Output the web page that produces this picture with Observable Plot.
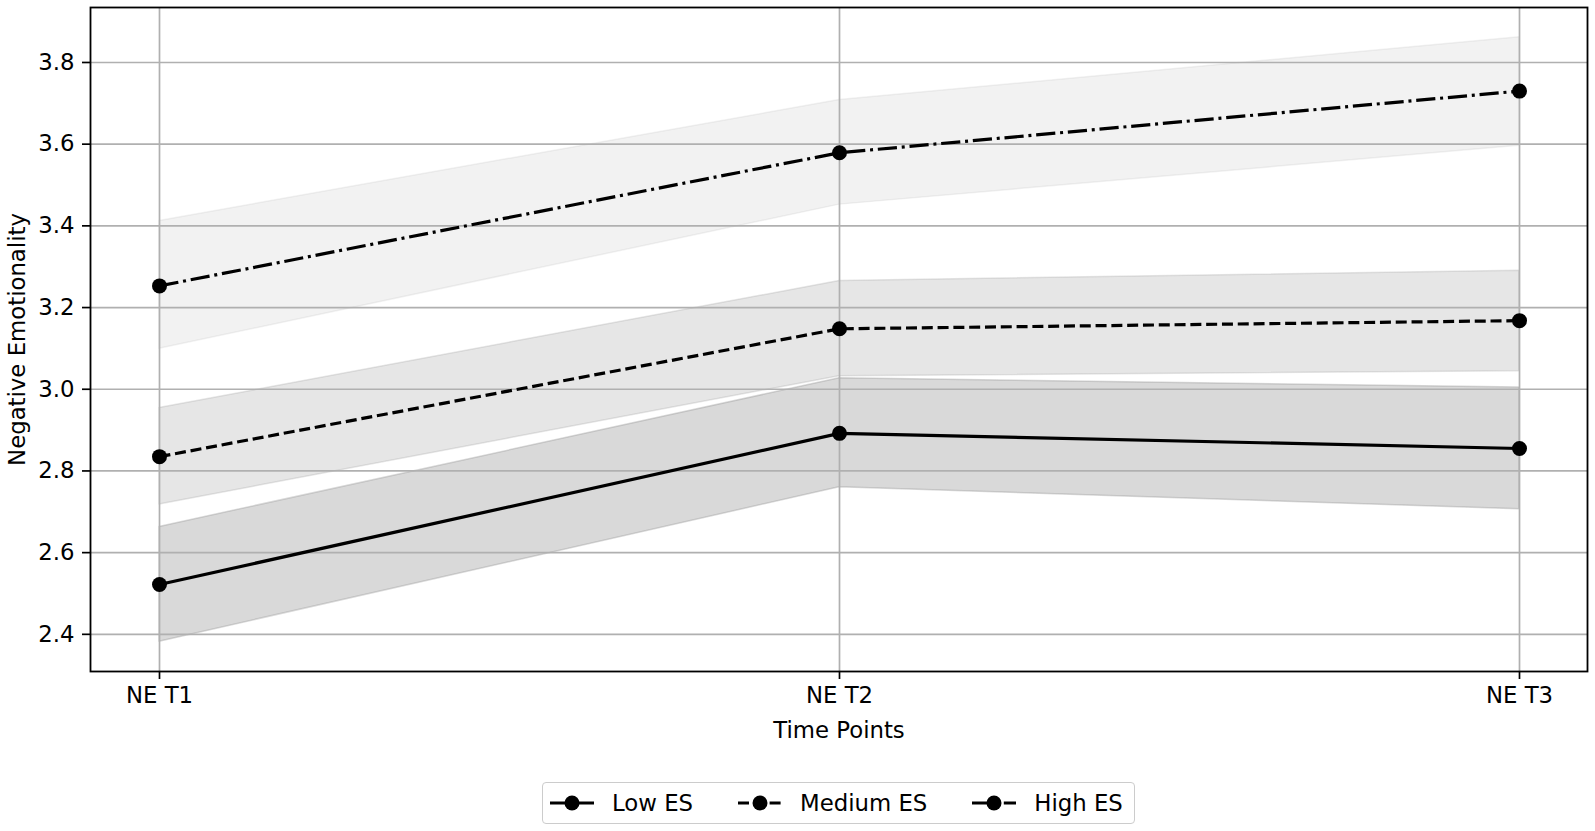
<!DOCTYPE html>
<html>
<head>
<meta charset="utf-8">
<script src="https://cdn.jsdelivr.net/npm/d3@7"></script>
<script src="https://cdn.jsdelivr.net/npm/@observablehq/plot@0.6"></script>
<style>
  html, body { margin: 0; padding: 0; background: white; }
  body { width: 1595px; height: 831px; overflow: hidden; font-family: "DejaVu Sans", sans-serif; }
  #legend {
    position: absolute; left: 542px; top: 782px; width: 591px; height: 40px;
    border: 1px solid #cccccc; border-radius: 4px; background: white;
    display: flex; align-items: center; box-sizing: content-box;
    font-size: 22.8px; color: black;
  }
  .item { display: flex; align-items: center; }
  .item svg { display: block; }
  .item span { margin-left: 16px; white-space: nowrap; }
</style>
</head>
<body>
<div id="chart"></div>
<div id="legend"></div>
<script>
const timePoints = ["NE T1", "NE T2", "NE T3"];
const groups = ["Low ES", "Medium ES", "High ES"];

const lowMean  = [2.522, 2.892, 2.855];
const lowLower = [2.382, 2.760, 2.706];
const lowUpper = [2.663, 3.027, 3.004];

const medMean  = [2.835, 3.148, 3.168];
const medLower = [2.718, 3.032, 3.044];
const medUpper = [2.954, 3.265, 3.290];

const highMean  = [3.253, 3.579, 3.730];
const highLower = [3.099, 3.452, 3.596];
const highUpper = [3.412, 3.708, 3.862];

const yTicks = [2.4, 2.6, 2.8, 3.0, 3.2, 3.4, 3.6, 3.8];

const series = [
  {name: groups[0], mean: lowMean, lower: lowLower, upper: lowUpper},
  {name: groups[1], mean: medMean, lower: medLower, upper: medUpper},
  {name: groups[2], mean: highMean, lower: highLower, upper: highUpper}
];
const styles = {
  "Low ES":    {dash: null, alpha: 0.3},
  "Medium ES": {dash: "11,4.8", alpha: 0.2},
  "High ES":   {dash: "19.2,4.8,3,4.8", alpha: 0.1}
};

const rows = series.map(s => timePoints.map((t, i) => ({
  group: s.name, t, mean: s.mean[i], lo: s.lower[i], hi: s.upper[i]
})));

const marks = [];
rows.forEach((r, k) => {
  const st = styles[series[k].name];
  marks.push(Plot.areaY(r, {
    x: "t", y1: "lo", y2: "hi", fill: "gray", fillOpacity: st.alpha,
    stroke: "gray", strokeOpacity: st.alpha, strokeWidth: 1.5
  }));
});
marks.push(Plot.gridX({stroke: "#b0b0b0", strokeOpacity: 1, strokeWidth: 1.7}));
marks.push(Plot.gridY(yTicks, {stroke: "#b0b0b0", strokeOpacity: 1, strokeWidth: 1.7}));
rows.forEach((r, k) => {
  const st = styles[series[k].name];
  marks.push(Plot.line(r, {
    x: "t", y: "mean", stroke: "black", strokeWidth: 3.2,
    strokeDasharray: st.dash, strokeLinecap: "butt", strokeLinejoin: "round"
  }));
  marks.push(Plot.dot(r, {x: "t", y: "mean", r: 7.5, fill: "black", stroke: "none"}));
});
marks.push(Plot.frame({stroke: "black", strokeWidth: 1.8}));
marks.push(Plot.axisX({
  tickSize: 8, tickPadding: 7, strokeWidth: 1.7,
  label: "Time Points", labelAnchor: "center", labelArrow: "none", labelOffset: 66
}));
marks.push(Plot.axisY(yTicks, {
  tickSize: 8, tickPadding: 8, strokeWidth: 1.7, tickFormat: d3.format(".1f"),
  label: "Negative Emotionality", labelAnchor: "center", labelArrow: "none", labelOffset: 82
}));

const chart = Plot.plot({
  width: 1595, height: 750,
  marginLeft: 90, marginRight: 8, marginTop: 7, marginBottom: 79,
  style: {fontFamily: "DejaVu Sans", fontSize: "22.8px", color: "black", background: "white", overflow: "visible"},
  x: {type: "point", domain: timePoints, padding: 0.1},
  y: {domain: [2.309, 3.9346]},
  marks
});
document.getElementById("chart").appendChild(chart);

// legend
const legend = document.getElementById("legend");
series.forEach((s, k) => {
  const st = styles[s.name];
  const item = document.createElement("div");
  item.className = "item";
  item.style.marginLeft = k === 0 ? "5px" : "43px";
  const svg = d3.create("svg").attr("width", 48).attr("height", 20);
  svg.append("line").attr("x1", 2).attr("x2", 46).attr("y1", 10).attr("y2", 10)
    .attr("stroke", "black").attr("stroke-width", 3.2)
    .attr("stroke-dasharray", st.dash).attr("stroke-linecap", "butt");
  svg.append("circle").attr("cx", 24).attr("cy", 10).attr("r", 7.5).attr("fill", "black");
  item.appendChild(svg.node());
  const span = document.createElement("span");
  span.textContent = s.name;
  item.appendChild(span);
  legend.appendChild(item);
});
</script>
</body>
</html>
